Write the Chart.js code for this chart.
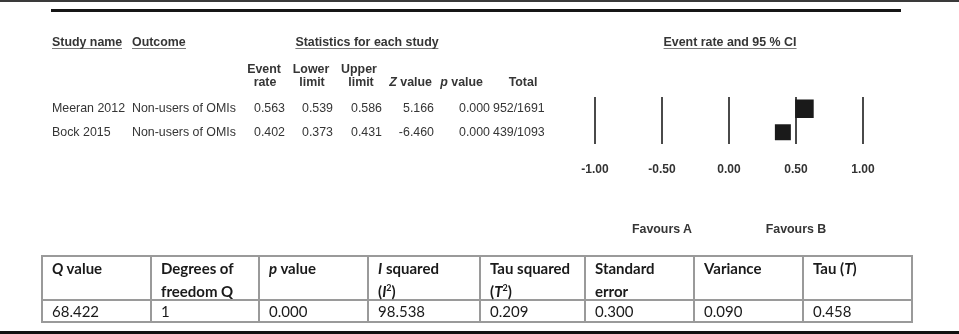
<!DOCTYPE html>
<html><head><meta charset="utf-8">
<script src="https://cdn.jsdelivr.net/npm/chart.js@4.4.1/dist/chart.umd.min.js"></script>
<style>
html,body{margin:0;padding:0;background:#fff;}
#wrap{position:relative;width:959px;height:334px;overflow:hidden;background:#fff;}
#c{position:absolute;left:0;top:0;}
.t{position:absolute;white-space:nowrap;font-family:"Liberation Sans",Arial,sans-serif;font-size:12.4px;line-height:14px;height:14px;color:#353535;}
.b{font-weight:bold;}
.ul{display:inline-block;line-height:11px;border-bottom:1.6px solid #7a7a7a;}
.rule{position:absolute;}
.cell{position:absolute;white-space:nowrap;font-family:Lato,"Open Sans",sans-serif;font-size:15px;color:#1a1a1a;}
.cell sup{font-size:9px;line-height:0;vertical-align:6px;}
.gl{position:absolute;background:#9a9a9a;}
</style></head>
<body><div id="wrap"><canvas id="c" width="959" height="334"></canvas></div>
<script>
// ---- data ----
const studyNames = ['Meeran 2012', 'Bock 2015'];
const outcomes = ['Non-users of OMIs', 'Non-users of OMIs'];
const eventRate = [0.563, 0.402];
const lowerLimit = [0.539, 0.373];
const upperLimit = [0.586, 0.431];
const zValues = [5.166, -6.460];
const pValues = [0.000, 0.000];
const eventCounts = [952, 439];
const totals = [1691, 1093];
const xTickValues = [-1, -0.5, 0, 0.5, 1];
const favourLabels = ['Favours A', 'Favours B'];
const hetHeaders = ['<i>Q</i> value', 'Degrees of<br>freedom Q', '<i>p</i> value', '<i>I</i> squared<br>(<i>I</i><sup>2</sup>)', 'Tau squared<br>(<i>T</i><sup>2</sup>)', 'Standard<br>error', 'Variance', 'Tau (<i>T</i>)'];
const hetValues = ['68.422', '1', '0.000', '98.538', '0.209', '0.300', '0.090', '0.458'];

// ---- layout helpers ----
const wrap = document.getElementById('wrap');
function addText(html, x, y, align, cls) {
  const d = document.createElement('div');
  d.className = 't' + (cls ? ' ' + cls : '');
  d.innerHTML = html;
  d.style.left = x + 'px';
  d.style.top = (y - 7) + 'px';
  if (align === 'center') d.style.transform = 'translateX(-50%)';
  else if (align === 'right') d.style.transform = 'translateX(-100%)';
  wrap.appendChild(d);
  return d;
}
function addRule(x, y, w, h, color) {
  const d = document.createElement('div');
  d.className = 'rule';
  Object.assign(d.style, {left: x + 'px', top: y + 'px', width: w + 'px', height: h + 'px', background: color});
  wrap.appendChild(d);
}

// page rules
addRule(0, 0, 959, 2, '#3a3a3a');
addRule(51, 9, 850, 3, '#161616');
addRule(0, 331, 959, 3, '#111');

// top headers
addText('<span class="ul">Study name</span>', 52, 42, 'left', 'b');
addText('<span class="ul">Outcome</span>', 132, 42, 'left', 'b');
addText('<span class="ul">Statistics for each study</span>', 367, 42, 'center', 'b');
addText('<span class="ul">Event rate and 95 % CI</span>', 730, 42, 'center', 'b');

// column headers
addText('Event', 264, 69, 'center', 'b');
addText('rate', 265, 82, 'center', 'b');
addText('Lower', 311, 69, 'center', 'b');
addText('limit', 312, 82, 'center', 'b');
addText('Upper', 359, 69, 'center', 'b');
addText('limit', 361, 82, 'center', 'b');
addText('<i>Z</i> value', 432, 82, 'right', 'b');
addText('<i>p</i> value', 483, 82, 'right', 'b');
addText('Total', 523, 82, 'center', 'b');

// study rows
const rowY = [108, 132];
studyNames.forEach((s, i) => {
  const y = rowY[i];
  addText(s, 52, y, 'left');
  addText(outcomes[i], 132, y, 'left');
  addText(eventRate[i].toFixed(3), 285, y, 'right');
  addText(lowerLimit[i].toFixed(3), 333, y, 'right');
  addText(upperLimit[i].toFixed(3), 382, y, 'right');
  addText(zValues[i].toFixed(3), 434, y, 'right');
  addText(pValues[i].toFixed(3), 490, y, 'right');
  addText(eventCounts[i] + '/' + totals[i], 493, y, 'left');
});

// favours labels (centred on -0.5 and 0.5)
addText(favourLabels[0], 662, 229, 'center', 'b');
addText(favourLabels[1], 796, 229, 'center', 'b');

// heterogeneity table
const colEdges = [42, 151, 259, 368, 480, 585, 694, 803, 912];
const rowEdges = [256, 300, 322];
rowEdges.forEach(y => {
  const d = document.createElement('div'); d.className = 'gl';
  Object.assign(d.style, {left: (colEdges[0] - 1) + 'px', top: (y - 1) + 'px', width: (colEdges[colEdges.length - 1] - colEdges[0] + 2) + 'px', height: '2px'});
  wrap.appendChild(d);
});
colEdges.forEach(x => {
  const d = document.createElement('div'); d.className = 'gl';
  Object.assign(d.style, {left: (x - 1) + 'px', top: (rowEdges[0] - 1) + 'px', width: '2px', height: (rowEdges[2] - rowEdges[0] + 2) + 'px'});
  wrap.appendChild(d);
});
hetHeaders.forEach((h, i) => {
  const d = document.createElement('div'); d.className = 'cell';
  d.innerHTML = h;
  Object.assign(d.style, {left: (colEdges[i] + 10) + 'px', top: '257px', lineHeight: '22.5px', fontWeight: 'bold'});
  wrap.appendChild(d);
  const v = document.createElement('div'); v.className = 'cell';
  v.textContent = hetValues[i];
  Object.assign(v.style, {left: (colEdges[i] + 10) + 'px', top: '301px', lineHeight: '21px'});
  wrap.appendChild(v);
});

// ---- forest plot (Chart.js) ----
const ciPlugin = {
  id: 'ciLines',
  beforeDatasetsDraw(chart) {
    const {ctx, scales: {x, y}} = chart;
    ctx.save();
    ctx.strokeStyle = '#1a1a1a';
    ctx.lineWidth = 1.5;
    studyNames.forEach((s, i) => {
      const py = y.getPixelForValue(i);
      ctx.beginPath();
      ctx.moveTo(x.getPixelForValue(lowerLimit[i]), py);
      ctx.lineTo(x.getPixelForValue(upperLimit[i]), py);
      ctx.stroke();
    });
    ctx.restore();
  }
};

new Chart(document.getElementById('c'), {
  type: 'scatter',
  data: {
    labels: studyNames,
    datasets: [{
      data: studyNames.map((s, i) => ({x: eventRate[i], y: s})),
      pointStyle: 'rect',
      pointRadius: [13.1, 11.3],
      pointHoverRadius: [13.1, 11.3],
      backgroundColor: '#1a1a1a',
      borderColor: '#1a1a1a',
      borderWidth: 0
    }]
  },
  options: {
    responsive: false,
    animation: false,
    events: [],
    layout: {padding: {left: 595, right: 96, top: 97, bottom: 150}},
    plugins: {legend: {display: false}, tooltip: {enabled: false}},
    scales: {
      x: {
        type: 'linear', min: -1, max: 1,
        afterBuildTicks: s => { s.ticks = xTickValues.map(v => ({value: v})); },
        ticks: {
          callback: v => Number(v).toFixed(2),
          font: {family: '"Liberation Sans", Arial, sans-serif', size: 12, weight: 'bold'},
          color: '#333', padding: 18, maxRotation: 0, autoSkip: false
        },
        grid: {color: '#4a4a4a', lineWidth: 2, drawTicks: false},
        border: {display: false},
        afterFit: s => { s.height = 40; }
      },
      y: {type: 'category', labels: studyNames, offset: true, display: false}
    }
  },
  plugins: [ciPlugin]
});
</script>
</body></html>
